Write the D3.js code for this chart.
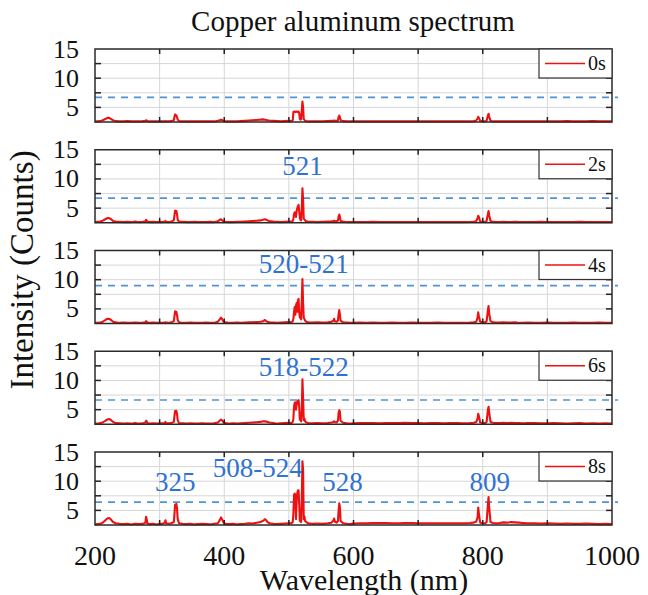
<!DOCTYPE html>
<html><head><meta charset="utf-8">
<script src="https://cdn.jsdelivr.net/npm/d3@7"></script>
<style>body{margin:0;background:#fff}</style>
</head><body><svg id="c" width="648" height="595"></svg>
<script>
const wavelengths = [
  200,204,208,212,216,219,222,225,228,232,238,244,250,256,262,268,274,278,279,280,281,284,290,296,300,
  304,308,309,310,314,318,322,323,324,325,326,327,328,330,336,342,348,354,360,366,372,378,384,390,393,395,397,399,
  402,408,414,420,426,432,438,444,450,456,460,463,465,467,470,476,482,488,494,500,
  504,506,507,508,509,510,511,512,513,514,515,516,517,518,519,520,521,522,523,524,525,527,530,
  536,544,552,560,566,569,570,571,574,576,577,578,579,580,584,590,596,
  600,610,620,630,640,650,660,670,680,690,700,710,720,730,740,750,760,770,780,786,790,
  792,793,794,796,800,804,806,808,809,810,812,816,820,
  826,832,838,844,850,856,862,870,880,890,900,910,920,930,940,950,960,970,980,990,1000
];
const counts0s = [
  2.6,2.6,2.65,2.8,3.0,3.2,3.2,3.0,2.8,2.65,2.6,2.6,2.65,2.6,2.6,2.6,2.65,2.7,2.8,2.75,2.65,2.6,2.6,2.6,2.6,
  2.6,2.6,2.65,2.6,2.6,2.65,2.8,3.4,3.8,3.7,3.6,3.3,2.9,2.65,2.6,2.6,2.6,2.6,2.6,2.6,2.6,2.6,2.6,2.7,2.8,2.9,2.8,2.7,
  2.6,2.6,2.6,2.6,2.65,2.7,2.75,2.8,2.85,2.9,2.95,2.9,2.85,2.8,2.75,2.7,2.65,2.6,2.65,2.7,
  2.65,2.8,4.2,4.3,4.3,4.2,4.3,4.3,4.2,4.3,4.3,4.0,3.0,2.9,3.0,4.5,6.0,5.0,3.0,2.9,2.7,2.65,2.6,
  2.6,2.6,2.6,2.65,2.7,2.7,2.75,2.7,2.7,2.8,3.4,3.6,3.3,2.8,2.65,2.6,2.6,
  2.6,2.6,2.62,2.6,2.6,2.6,2.62,2.6,2.6,2.6,2.62,2.6,2.6,2.6,2.6,2.61,2.6,2.6,2.6,2.65,2.75,
  3.1,3.4,3.2,2.7,2.6,2.6,2.7,3.6,3.9,3.4,2.7,2.6,2.6,
  2.6,2.6,2.6,2.6,2.6,2.6,2.6,2.6,2.6,2.6,2.6,2.6,2.6,2.65,2.6,2.6,2.6,2.65,2.6,2.6,2.6
];
const counts2s = [
  2.6,2.65,2.7,2.85,3.1,3.3,3.3,3.1,2.8,2.7,2.65,2.6,2.65,2.6,2.7,2.6,2.65,2.75,3.0,2.9,2.7,2.6,2.65,2.6,2.65,
  2.6,2.7,2.8,2.65,2.6,2.7,2.9,3.8,4.6,4.4,4.5,3.9,3.0,2.7,2.65,2.6,2.6,2.65,2.6,2.6,2.6,2.65,2.6,2.75,3.0,3.1,2.9,2.7,
  2.65,2.6,2.6,2.65,2.65,2.7,2.75,2.8,2.85,2.9,3.0,3.1,3.0,2.9,2.8,2.7,2.65,2.6,2.65,2.7,
  2.7,2.8,3.2,4.0,4.3,4.2,3.5,4.5,5.0,5.3,5.55,4.5,3.3,3.0,2.9,5.0,8.4,6.5,3.2,3.1,2.9,2.75,2.65,
  2.65,2.6,2.65,2.7,2.75,2.8,2.85,2.8,2.75,2.9,3.6,3.9,3.5,2.8,2.7,2.6,2.6,
  2.6,2.62,2.6,2.65,2.6,2.6,2.63,2.6,2.6,2.62,2.6,2.6,2.64,2.6,2.6,2.62,2.6,2.6,2.63,2.65,2.8,
  3.3,3.7,3.5,2.7,2.65,2.65,2.8,4.0,4.5,3.8,2.8,2.65,2.6,
  2.6,2.65,2.6,2.6,2.65,2.6,2.6,2.6,2.6,2.65,2.6,2.6,2.6,2.6,2.6,2.65,2.6,2.6,2.6,2.6,2.6
];
const counts4s = [
  2.6,2.6,2.65,2.8,3.1,3.3,3.3,3.1,2.8,2.7,2.6,2.65,2.6,2.6,2.65,2.6,2.65,2.7,2.9,2.8,2.7,2.6,2.65,2.6,2.6,
  2.6,2.65,2.7,2.65,2.6,2.7,2.9,3.8,4.6,4.3,4.5,3.9,3.1,2.7,2.6,2.6,2.65,2.6,2.6,2.6,2.65,2.6,2.6,2.8,3.2,3.5,3.2,2.8,
  2.7,2.6,2.6,2.65,2.6,2.65,2.7,2.7,2.75,2.8,2.9,3.1,2.9,2.8,2.7,2.65,2.6,2.65,2.7,2.75,
  2.7,2.9,3.3,4.5,5.3,4.0,5.5,6.0,4.5,6.5,6.7,4.5,3.5,4.0,3.2,6.5,10.1,6.0,3.5,3.3,3.0,2.8,2.7,
  2.65,2.7,2.65,2.7,2.8,3.0,3.3,2.9,2.8,3.0,4.2,4.8,4.0,3.0,2.7,2.65,2.6,
  2.6,2.65,2.6,2.65,2.6,2.6,2.65,2.6,2.6,2.65,2.6,2.6,2.6,2.65,2.6,2.6,2.6,2.6,2.65,2.7,2.8,
  3.5,4.4,3.8,2.8,2.7,2.7,2.9,4.8,5.5,4.2,2.9,2.7,2.65,
  2.65,2.7,2.65,2.65,2.7,2.6,2.6,2.65,2.6,2.6,2.65,2.6,2.6,2.6,2.65,2.6,2.6,2.6,2.65,2.6,2.6
];
const counts6s = [
  2.6,2.6,2.7,2.8,3.1,3.3,3.4,3.2,2.9,2.7,2.65,2.6,2.65,2.6,2.7,2.6,2.65,2.8,3.1,3.0,2.7,2.6,2.65,2.6,2.65,
  2.65,2.7,2.9,2.7,2.65,2.7,2.9,4.0,4.8,4.6,4.8,4.2,3.2,2.7,2.65,2.6,2.65,2.6,2.6,2.65,2.6,2.6,2.65,2.8,3.1,3.3,3.1,2.8,
  2.7,2.6,2.65,2.6,2.65,2.7,2.75,2.8,2.85,2.9,3.0,3.0,2.95,2.9,2.8,2.7,2.6,2.65,2.7,2.75,
  2.7,2.9,3.5,5.5,6.2,6.25,5.0,5.8,6.4,6.5,6.65,5.5,3.3,3.2,3.0,5.0,10.2,7.0,3.2,3.5,3.0,2.8,2.7,
  2.65,2.7,2.65,2.7,2.8,2.9,3.0,2.9,2.8,3.1,4.5,4.9,4.6,3.1,2.75,2.65,2.6,
  2.65,2.7,2.7,2.7,2.65,2.7,2.7,2.7,2.75,2.7,2.7,2.65,2.7,2.7,2.65,2.7,2.7,2.65,2.7,2.75,2.9,
  3.5,4.3,3.9,2.8,2.7,2.7,2.9,5.0,5.5,4.5,2.9,2.75,2.7,
  2.7,2.75,2.7,2.75,2.7,2.7,2.65,2.7,2.7,2.65,2.65,2.7,2.65,2.6,2.65,2.7,2.6,2.65,2.6,2.65,2.6
];
const counts8s = [
  2.6,2.65,2.7,2.9,3.3,3.6,3.7,3.4,3.0,2.8,2.7,2.65,2.7,2.6,2.7,2.65,2.7,2.9,3.9,3.5,2.8,2.65,2.7,2.6,2.7,
  2.7,2.9,3.3,2.8,2.7,2.8,3.0,4.5,6.0,5.8,6.1,5.2,3.5,2.8,2.7,2.65,2.7,2.6,2.65,2.7,2.65,2.6,2.7,2.8,3.3,3.8,3.4,2.9,
  2.7,2.65,2.7,2.6,2.65,2.7,2.8,2.75,2.9,3.0,3.2,3.5,3.3,3.0,2.8,2.7,2.65,2.7,2.75,2.8,
  2.8,3.0,4.5,7.6,7.9,7.5,3.5,6.5,8.0,8.4,8.45,6.0,3.2,3.5,3.0,7.0,13.4,12.0,3.5,4.0,3.2,3.0,2.8,
  2.7,2.75,2.7,2.8,2.9,3.3,3.6,3.1,2.9,3.2,5.0,6.2,5.5,3.2,2.8,2.7,2.65,
  2.75,2.8,2.8,2.85,2.85,2.85,2.8,2.8,2.85,2.85,2.8,2.8,2.8,2.8,2.8,2.8,2.8,2.8,2.85,2.9,3.1,
  3.8,5.5,4.5,2.9,2.8,2.8,3.0,6.0,7.3,5.5,3.0,2.85,2.8,
  2.85,2.95,2.9,3.0,2.95,2.9,2.85,2.8,2.8,2.75,2.8,2.75,2.7,2.75,2.7,2.7,2.75,2.7,2.65,2.7,2.65
];
const seriesNames = ["0s","2s","4s","6s","8s"];
const thresholds = [6.7, 6.7, 9.0, 6.65, 6.4];
const xTickValues = [200, 400, 600, 800, 1000];
const xGridValues = [300, 400, 500, 600, 700, 800, 900];
const yTickValues = [5, 10, 15];
const yGridValues = [5, 7.5, 10, 12.5];
const annotPanel = [1, 2, 3, 4, 4, 4, 4];
const annotNm = [521, 523, 523, 324, 452, 583, 811];
const annotValue = [10.7, 11.1, 10.8, 8.4, 10.7, 8.4, 8.4];
const annotText = ["521", "520-521", "518-522", "325", "508-524", "528", "809"];

const allCounts = [counts0s, counts2s, counts4s, counts6s, counts8s];
const svg = d3.select("#c");
const L = 95, R = 612, H = 73;
const tops = [49, 149.75, 250.5, 351.25, 452];
const x = d3.scaleLinear().domain([200, 1000]).range([L, R]);
const FONT = '"Liberation Serif"';
const red = "#ee1111", blue = "#2f72d2", dashBlue = "#4d94dc";

function txt(sel, size) {
  return sel.style("font-family", FONT).style("font-size", size + "px");
}

allCounts.forEach((counts, i) => {
  const top = tops[i];
  const y = d3.scaleLinear().domain([2.5, 15]).range([top + H, top]);
  const g = svg.append("g");
  g.selectAll(".vg").data(xGridValues).join("line")
    .attr("x1", d => x(d)).attr("x2", d => x(d)).attr("y1", top).attr("y2", top + H)
    .attr("stroke", "#d6d6d6").attr("stroke-width", 1);
  g.selectAll(".hg").data(yGridValues).join("line")
    .attr("x1", L).attr("x2", R).attr("y1", d => y(d)).attr("y2", d => y(d))
    .attr("stroke", "#d6d6d6").attr("stroke-width", 1);
  g.append("line").attr("x1", L).attr("x2", R + 6)
    .attr("y1", y(thresholds[i])).attr("y2", y(thresholds[i]))
    .attr("stroke", dashBlue).attr("stroke-width", 1.7).attr("stroke-dasharray", "7,6");
  const cid = "clip" + i;
  svg.append("clipPath").attr("id", cid).append("rect")
    .attr("x", L).attr("y", top - 1).attr("width", R - L).attr("height", H + 2);
  const line = d3.line().x((d, k) => x(wavelengths[k])).y(d => y(d));
  g.append("path").datum(counts).attr("d", line)
    .attr("fill", "none").attr("stroke", red).attr("stroke-width", 2.1)
    .attr("stroke-linejoin", "round").attr("clip-path", `url(#${cid})`);
  g.append("rect").attr("x", L).attr("y", top).attr("width", R - L).attr("height", H)
    .attr("fill", "none").attr("stroke", "#2a2a2a").attr("stroke-width", 1.5);
  g.selectAll(".ytl").data(yGridValues).join("line")
    .attr("x1", L).attr("x2", L + 6).attr("y1", d => y(d)).attr("y2", d => y(d))
    .attr("stroke", "#222").attr("stroke-width", 1.5);
  g.selectAll(".ytr").data(yGridValues).join("line")
    .attr("x1", R - 6).attr("x2", R).attr("y1", d => y(d)).attr("y2", d => y(d))
    .attr("stroke", "#222").attr("stroke-width", 1.5);
  g.selectAll(".xtt").data(xGridValues).join("line")
    .attr("x1", d => x(d)).attr("x2", d => x(d)).attr("y1", top).attr("y2", top + 5)
    .attr("stroke", "#222").attr("stroke-width", 1.5);
  g.selectAll(".xtb").data(xGridValues).join("line")
    .attr("x1", d => x(d)).attr("x2", d => x(d)).attr("y1", top + H - 5).attr("y2", top + H)
    .attr("stroke", "#222").attr("stroke-width", 1.5);
  txt(g.selectAll(".ylab").data(yTickValues).join("text")
    .attr("x", 79).attr("y", d => y(d) + 8.5)
    .attr("text-anchor", "end").attr("fill", "#111").text(d => d), 26);
  const lg = g.append("g");
  lg.append("rect").attr("x", R - 73).attr("y", top).attr("width", 73).attr("height", 29)
    .attr("fill", "#fff").attr("stroke", "#333").attr("stroke-width", 1.2);
  lg.append("line").attr("x1", R - 67).attr("x2", R - 27).attr("y1", top + 14.5).attr("y2", top + 14.5)
    .attr("stroke", red).attr("stroke-width", 1.6);
  txt(lg.append("text").attr("x", R - 24).attr("y", top + 21)
    .attr("fill", "#111").text(seriesNames[i]), 20);
  annotText.forEach((t, k) => {
    if (annotPanel[k] !== i) return;
    txt(g.append("text").attr("x", x(annotNm[k])).attr("y", y(annotValue[k]))
      .attr("text-anchor", "middle").attr("fill", blue).text(t), 27);
  });
});

txt(svg.selectAll(".xlab").data(xTickValues).join("text")
  .attr("x", d => x(d)).attr("y", 565)
  .attr("text-anchor", "middle").attr("fill", "#111").text(d => d), 28);

txt(svg.append("text").attr("x", 353).attr("y", 31).attr("text-anchor", "middle")
  .attr("fill", "#111").text("Copper aluminum spectrum"), 29);
txt(svg.append("text").attr("x", 364).attr("y", 590).attr("text-anchor", "middle")
  .attr("fill", "#111").text("Wavelength (nm)"), 30);
txt(svg.append("text").attr("transform", "translate(33,270) rotate(-90)").attr("text-anchor", "middle")
  .attr("fill", "#111").text("Intensity (Counts)"), 33);
</script></body></html>
